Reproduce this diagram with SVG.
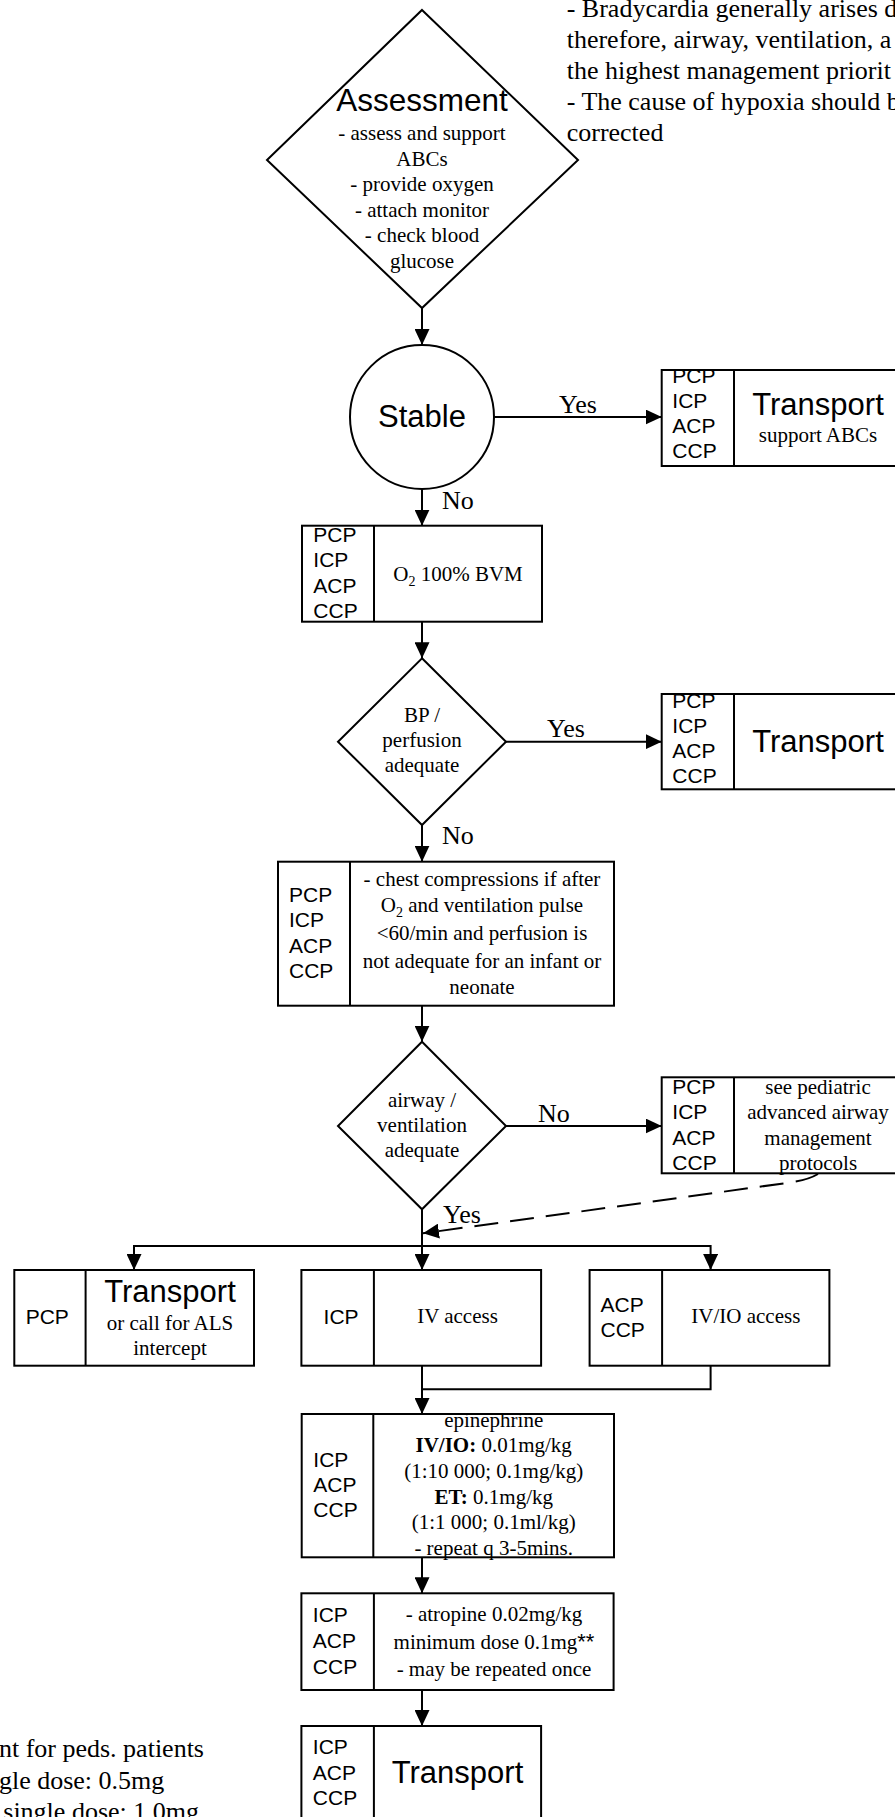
<svg xmlns="http://www.w3.org/2000/svg" width="895" height="1817" viewBox="0 0 895 1817">
<style>
.sh{fill:#fff;stroke:#000;stroke-width:2}
.ln{fill:none;stroke:#000;stroke-width:2}
.dv{stroke:#000;stroke-width:2}
.s{font-family:"Times New Roman","Liberation Serif",serif;font-size:21px;fill:#000}
.m{text-anchor:middle}
.lb{font-family:"Liberation Sans",Arial,sans-serif;font-size:21px;fill:#000}
.tt{font-family:"Liberation Sans",Arial,sans-serif;font-size:31px;fill:#000;text-anchor:middle}
.el{font-family:"Times New Roman","Liberation Serif",serif;font-size:26px;fill:#000}
.nt{font-family:"Times New Roman","Liberation Serif",serif;font-size:26px;fill:#000}
</style>
<defs>
<marker id="ah" markerUnits="userSpaceOnUse" markerWidth="16" markerHeight="15" refX="16" refY="7.5" orient="auto"><path d="M0,0 L16,7.5 L0,15 z" fill="#000"/></marker>
<clipPath id="c1"><rect x="661.7" y="370" width="240" height="96"/></clipPath>
<clipPath id="c2"><rect x="661.7" y="694" width="240" height="95.3"/></clipPath>
<clipPath id="c3"><rect x="661.7" y="1077.3" width="240" height="96"/></clipPath>
</defs>
<rect width="895" height="1817" fill="#fff"/>

<g id="note-top">
<text class="nt" x="566.7" y="16.5">- Bradycardia generally arises d</text>
<text class="nt" x="566.7" y="47.5">therefore, airway, ventilation, a</text>
<text class="nt" x="566.7" y="78.5">the highest management priorit</text>
<text class="nt" x="566.7" y="109.5">- The cause of hypoxia should b</text>
<text class="nt" x="566.7" y="140.5">corrected</text>
</g>

<g id="note-bottom">
<text class="nt" x="204" y="1757" text-anchor="end">nt for peds. patients</text>
<text class="nt" x="164.3" y="1788.5" text-anchor="end">gle dose: 0.5mg</text>
<text class="nt" x="199" y="1820" text-anchor="end">single dose: 1.0mg</text>
</g>

<g id="connectors">
<path class="ln" d="M422,308 L422,345" marker-end="url(#ah)"/>
<path class="ln" d="M494,417 L661.7,417" marker-end="url(#ah)"/>
<path class="ln" d="M422,489 L422,525.7" marker-end="url(#ah)"/>
<path class="ln" d="M422,621.7 L422,658.3" marker-end="url(#ah)"/>
<path class="ln" d="M506,741.7 L661.7,741.7" marker-end="url(#ah)"/>
<path class="ln" d="M422,825 L422,861.7" marker-end="url(#ah)"/>
<path class="ln" d="M422,1005.7 L422,1041.7" marker-end="url(#ah)"/>
<path class="ln" d="M506,1126 L661.7,1126" marker-end="url(#ah)"/>
<path class="ln" d="M422,1209.3 L422,1270" marker-end="url(#ah)"/>
<path class="ln" d="M422,1246 L134,1246 L134,1270" marker-end="url(#ah)"/>
<path class="ln" d="M422,1246 L710.6,1246 L710.6,1270" marker-end="url(#ah)"/>
<path class="ln" d="M422,1365.7 L422,1414" marker-end="url(#ah)"/>
<path class="ln" d="M710.6,1365.7 L710.6,1389.3 L422,1389.3"/>
<path class="ln" d="M422,1557.3 L422,1593.3" marker-end="url(#ah)"/>
<path class="ln" d="M422,1690 L422,1726" marker-end="url(#ah)"/>
<path class="ln" d="M818,1174 Q808,1180 790,1182.5 L423,1233.3" stroke-dasharray="24 12" marker-end="url(#ah)"/>
<text class="el" x="559" y="413">Yes</text>
<text class="el" x="442" y="509">No</text>
<text class="el" x="547" y="736.7">Yes</text>
<text class="el" x="442" y="844">No</text>
<text class="el" x="538" y="1121.7">No</text>
<text class="el" x="443" y="1223.3">Yes</text>
</g>

<g id="assessment">
<polygon class="sh" points="422,10 578,160 422,308 267,160"/>
<text class="tt" x="422" y="111" style="font-size:31.5px">Assessment</text>
<text class="s m" x="422" y="140">- assess and support</text>
<text class="s m" x="422" y="165.5">ABCs</text>
<text class="s m" x="422" y="191">- provide oxygen</text>
<text class="s m" x="422" y="216.5">- attach monitor</text>
<text class="s m" x="422" y="242">- check blood</text>
<text class="s m" x="422" y="267.5">glucose</text>
</g>

<g id="stable">
<circle class="sh" cx="422" cy="417" r="72"/>
<text class="tt" x="422" y="427">Stable</text>
</g>

<g id="transport-1">
<rect class="sh" x="661.7" y="370" width="240" height="96"/>
<line class="dv" x1="734" y1="370" x2="734" y2="466"/>
<g clip-path="url(#c1)">
<text class="lb" x="672.3" y="383">PCP</text>
<text class="lb" x="672.3" y="408">ICP</text>
<text class="lb" x="672.3" y="433">ACP</text>
<text class="lb" x="672.3" y="458">CCP</text>
</g>
<text class="tt" x="818" y="415">Transport</text>
<text class="s m" x="818" y="442">support ABCs</text>
</g>

<g id="o2">
<rect class="sh" x="302" y="525.7" width="240" height="96"/>
<line class="dv" x1="374" y1="525.7" x2="374" y2="621.7"/>
<text class="lb" x="313.3" y="541.7">PCP</text>
<text class="lb" x="313.3" y="567.2">ICP</text>
<text class="lb" x="313.3" y="592.7">ACP</text>
<text class="lb" x="313.3" y="618.2">CCP</text>
<text class="s m" x="458" y="581">O<tspan font-size="14" dy="5">2</tspan><tspan dy="-5"> 100% BVM</tspan></text>
</g>

<g id="bp">
<polygon class="sh" points="422,658.3 506,741.7 422,825 338,741.7"/>
<text class="s m" x="422" y="721.7">BP /</text>
<text class="s m" x="422" y="747.3">perfusion</text>
<text class="s m" x="422" y="772.3">adequate</text>
</g>

<g id="transport-2">
<rect class="sh" x="661.7" y="694" width="240" height="95.3"/>
<line class="dv" x1="734" y1="694" x2="734" y2="789.3"/>
<g clip-path="url(#c2)">
<text class="lb" x="672.3" y="707.5">PCP</text>
<text class="lb" x="672.3" y="732.5">ICP</text>
<text class="lb" x="672.3" y="757.5">ACP</text>
<text class="lb" x="672.3" y="782.5">CCP</text>
</g>
<text class="tt" x="818" y="752">Transport</text>
</g>

<g id="compressions">
<rect class="sh" x="278" y="861.7" width="336" height="144"/>
<line class="dv" x1="350" y1="861.7" x2="350" y2="1005.7"/>
<text class="lb" x="289" y="901.7">PCP</text>
<text class="lb" x="289" y="927.2">ICP</text>
<text class="lb" x="289" y="952.7">ACP</text>
<text class="lb" x="289" y="978.2">CCP</text>
<text class="s m" x="482" y="885.5">- chest compressions if after</text>
<text class="s m" x="482" y="912">O<tspan font-size="14" dy="5">2</tspan><tspan dy="-5"> and ventilation pulse</tspan></text>
<text class="s m" x="482" y="940">&lt;60/min and perfusion is</text>
<text class="s m" x="482" y="968">not adequate for an infant or</text>
<text class="s m" x="482" y="994">neonate</text>
</g>

<g id="airway">
<polygon class="sh" points="422,1041.7 506,1126 422,1209.3 338,1126"/>
<text class="s m" x="422" y="1107">airway /</text>
<text class="s m" x="422" y="1131.7">ventilation</text>
<text class="s m" x="422" y="1156.7">adequate</text>
</g>

<g id="advanced-airway">
<rect class="sh" x="661.7" y="1077.3" width="240" height="96"/>
<line class="dv" x1="734" y1="1077.3" x2="734" y2="1173.3"/>
<g clip-path="url(#c3)">
<text class="lb" x="672.3" y="1093.5">PCP</text>
<text class="lb" x="672.3" y="1119">ICP</text>
<text class="lb" x="672.3" y="1144.5">ACP</text>
<text class="lb" x="672.3" y="1170">CCP</text>
</g>
<text class="s m" x="818" y="1093.5">see pediatric</text>
<text class="s m" x="818" y="1119">advanced airway</text>
<text class="s m" x="818" y="1144.5">management</text>
<text class="s m" x="818" y="1170">protocols</text>
</g>

<g id="pcp-transport">
<rect class="sh" x="14.3" y="1270" width="239.7" height="95.7"/>
<line class="dv" x1="85.6" y1="1270" x2="85.6" y2="1365.7"/>
<text class="lb" x="25.7" y="1324.3">PCP</text>
<text class="tt" x="170" y="1301.7">Transport</text>
<text class="s m" x="170" y="1330">or call for ALS</text>
<text class="s m" x="170" y="1355">intercept</text>
</g>

<g id="icp-iv">
<rect class="sh" x="301.4" y="1270" width="239.7" height="95.7"/>
<line class="dv" x1="373.9" y1="1270" x2="373.9" y2="1365.7"/>
<text class="lb" x="323.6" y="1324">ICP</text>
<text class="s m" x="457.5" y="1323">IV access</text>
</g>

<g id="acp-ivio">
<rect class="sh" x="589.6" y="1270" width="239.8" height="95.7"/>
<line class="dv" x1="662.1" y1="1270" x2="662.1" y2="1365.7"/>
<text class="lb" x="600.5" y="1311.7">ACP</text>
<text class="lb" x="600.5" y="1336.7">CCP</text>
<text class="s m" x="745.8" y="1323">IV/IO access</text>
</g>

<g id="epinephrine">
<rect class="sh" x="301.7" y="1414" width="312.3" height="143.3"/>
<line class="dv" x1="373.3" y1="1414" x2="373.3" y2="1557.3"/>
<text class="lb" x="313.3" y="1466.7">ICP</text>
<text class="lb" x="313.3" y="1491.7">ACP</text>
<text class="lb" x="313.3" y="1516.7">CCP</text>
<text class="s m" x="493.7" y="1426.7">epinephrine</text>
<text class="s m" x="493.7" y="1452.3"><tspan font-weight="bold">IV/IO:</tspan> 0.01mg/kg</text>
<text class="s m" x="493.7" y="1478">(1:10 000; 0.1mg/kg)</text>
<text class="s m" x="493.7" y="1503.6"><tspan font-weight="bold">ET:</tspan> 0.1mg/kg</text>
<text class="s m" x="493.7" y="1529.3">(1:1 000; 0.1ml/kg)</text>
<text class="s m" x="493.7" y="1555">- repeat q 3-5mins.</text>
</g>

<g id="atropine">
<rect class="sh" x="301.4" y="1593.3" width="312.2" height="96.7"/>
<line class="dv" x1="373.9" y1="1593.3" x2="373.9" y2="1690"/>
<text class="lb" x="312.8" y="1621.7">ICP</text>
<text class="lb" x="312.8" y="1648">ACP</text>
<text class="lb" x="312.8" y="1674">CCP</text>
<text class="s m" x="494" y="1621">- atropine 0.02mg/kg</text>
<text class="s m" x="494" y="1648.5">minimum dose 0.1mg<tspan font-family="Liberation Sans, Arial, sans-serif" font-size="22">**</tspan></text>
<text class="s m" x="494" y="1676">- may be repeated once</text>
</g>

<g id="transport-final">
<rect class="sh" x="301.4" y="1726" width="239.7" height="96"/>
<line class="dv" x1="373.9" y1="1726" x2="373.9" y2="1822"/>
<text class="lb" x="312.8" y="1754">ICP</text>
<text class="lb" x="312.8" y="1779.5">ACP</text>
<text class="lb" x="312.8" y="1805">CCP</text>
<text class="tt" x="457.5" y="1783.3">Transport</text>
</g>
</svg>
